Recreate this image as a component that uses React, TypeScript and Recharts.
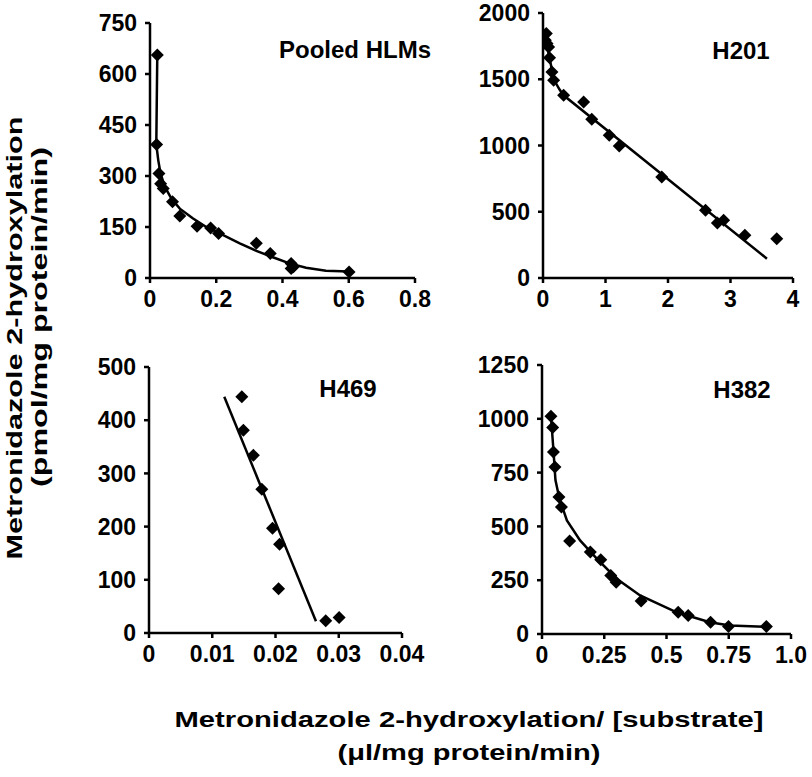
import React from 'react';
import { ScatterChart, Scatter, XAxis, YAxis } from 'recharts';

// Pooled HLMs
const hlmX = [0.022, 0.020, 0.027, 0.032, 0.040, 0.068, 0.090, 0.142, 0.183, 0.207, 0.321, 0.363, 0.426, 0.433, 0.426, 0.601];
const hlmY = [656, 393, 307, 277, 263, 224, 182, 152, 147, 131, 102, 72, 43, 33, 28, 18];
const hlmFitX = [0.022, 0.019, 0.025, 0.032, 0.045, 0.065, 0.090, 0.130, 0.170, 0.221, 0.271, 0.321, 0.371, 0.421, 0.471, 0.531, 0.601];
const hlmFitY = [656, 393, 346, 307, 268, 233, 204, 175, 150, 126, 102, 80, 61, 43, 30, 21, 19];

// H201
const h201X = [0.053, 0.037, 0.064, 0.09, 0.105, 0.143, 0.17, 0.33, 0.65, 0.78, 1.06, 1.22, 1.90, 2.60, 2.79, 2.89, 3.23, 3.74];
const h201Y = [1845, 1794, 1769, 1743, 1663, 1555, 1492, 1379, 1328, 1198, 1077, 996, 762, 511, 415, 435, 322, 297];
const h201FitX = [0.037, 0.074, 0.106, 0.144, 0.196, 0.265, 0.329, 3.583];
const h201FitY = [1807, 1731, 1656, 1568, 1479, 1422, 1379, 146];

// H469
const h469X = [0.01467, 0.01492, 0.0165, 0.01784, 0.01953, 0.02064, 0.02048, 0.02794, 0.03006];
const h469Y = [444, 381, 334, 270, 197, 167, 83, 23, 29];
const h469FitX = [0.0119, 0.0264];
const h469FitY = [444, 22];

// H382
const h382X = [0.036, 0.043, 0.046, 0.052, 0.068, 0.078, 0.111, 0.194, 0.236, 0.276, 0.298, 0.398, 0.547, 0.587, 0.677, 0.749, 0.901];
const h382Y = [1012, 960, 846, 776, 637, 590, 432, 381, 345, 272, 241, 153, 101, 86, 55, 35, 35];
const h382FitX = [0.036, 0.046, 0.054, 0.070, 0.100, 0.153, 0.220, 0.300, 0.394, 0.541, 0.674, 0.754, 0.901];
const h382FitY = [1012, 854, 715, 629, 528, 435, 350, 257, 179, 101, 55, 40, 33];

const hlmTicksX = [0, 0.2, 0.4, 0.6, 0.8];
const hlmTicksY = [0, 150, 300, 450, 600, 750];
const h201TicksX = [0, 1, 2, 3, 4];
const h201TicksY = [0, 500, 1000, 1500, 2000];
const h469TicksX = [0, 0.01, 0.02, 0.03, 0.04];
const h469TicksY = [0, 100, 200, 300, 400, 500];
const h382TicksX = [0, 0.25, 0.5, 0.75, 1];
const h382TicksY = [0, 250, 500, 750, 1000, 1250];

const FONT = '"Liberation Sans", Arial, sans-serif';

const zip = (xs: number[], ys: number[]) => xs.map((x, i) => ({ x, y: ys[i] }));

const Diamond = (props: any) => {
  const { cx, cy } = props;
  const s = 6.5;
  return <polygon points={`${cx},${cy - s} ${cx + s},${cy} ${cx},${cy + s} ${cx - s},${cy}`} fill="#000" />;
};

const NoDot = () => <g />;

interface PanelProps {
  rect: { l: number; r: number; t: number; b: number };
  xs: number[];
  ys: number[];
  fitX: number[];
  fitY: number[];
  ticksX: number[];
  ticksY: number[];
  fmtX?: (v: number) => string;
}

const Panel = ({ rect, xs, ys, fitX, fitY, ticksX, ticksY, fmtX }: PanelProps) => {
  const yw = 75;
  const xh = 35;
  const mt = 15;
  const mr = 30;
  const width = rect.r - rect.l + yw + mr;
  const height = rect.b - rect.t + mt + xh;
  const tick = { fill: '#000', fontSize: 23, fontWeight: 700, fontFamily: FONT };
  return <div style={{ position: 'absolute', left: rect.l - yw, top: rect.t - mt }}>
      <ScatterChart width={width} height={height} margin={{ top: mt, right: mr, bottom: 0, left: 0 }}>
        <XAxis type="number" dataKey="x" domain={[ticksX[0], ticksX[ticksX.length - 1]]} ticks={ticksX}
          height={xh} stroke="#000" strokeWidth={2.5} tickSize={5} tickMargin={8} tick={tick}
          tickFormatter={fmtX} interval={0} allowDataOverflow />
        <YAxis type="number" dataKey="y" domain={[ticksY[0], ticksY[ticksY.length - 1]]} ticks={ticksY}
          width={yw} stroke="#000" strokeWidth={2.5} tickSize={5} tickMargin={8} tick={tick}
          interval={0} allowDataOverflow />
        <Scatter data={zip(fitX, fitY)} line={{ stroke: '#000', strokeWidth: 2.5 }} shape={NoDot} isAnimationActive={false} />
        <Scatter data={zip(xs, ys)} shape={Diamond} isAnimationActive={false} />
      </ScatterChart>
    </div>;
};

const App = () => {
  const txt = { fontFamily: FONT, fontWeight: 700, fill: '#000' };
  return <div style={{ position: 'absolute', left: 0, top: 0, width: 812, height: 777, background: '#fff' }}>
      <Panel rect={{ l: 150, r: 415, t: 23, b: 278 }} xs={hlmX} ys={hlmY} fitX={hlmFitX} fitY={hlmFitY}
        ticksX={hlmTicksX} ticksY={hlmTicksY} />
      <Panel rect={{ l: 543, r: 793, t: 13, b: 278 }} xs={h201X} ys={h201Y} fitX={h201FitX} fitY={h201FitY}
        ticksX={h201TicksX} ticksY={h201TicksY} />
      <Panel rect={{ l: 149, r: 402, t: 367, b: 633 }} xs={h469X} ys={h469Y} fitX={h469FitX} fitY={h469FitY}
        ticksX={h469TicksX} ticksY={h469TicksY} />
      <Panel rect={{ l: 542, r: 791, t: 365, b: 634 }} xs={h382X} ys={h382Y} fitX={h382FitX} fitY={h382FitY}
        ticksX={h382TicksX} ticksY={h382TicksY} fmtX={(v: number) => (v === 1 ? '1.0' : String(v))} />
      <svg width={812} height={777} style={{ position: 'absolute', left: 0, top: 0, pointerEvents: 'none' }}>
        <text x={355} y={58} textAnchor="middle" fontSize={24} {...txt}>Pooled HLMs</text>
        <text x={741} y={59} textAnchor="middle" fontSize={24} {...txt}>H201</text>
        <text x={348} y={397} textAnchor="middle" fontSize={24} {...txt}>H469</text>
        <text x={742} y={398} textAnchor="middle" fontSize={24} {...txt}>H382</text>
        <text transform="translate(22,338) rotate(-90)" textAnchor="middle" fontSize={22} textLength={443}
          lengthAdjust="spacingAndGlyphs" {...txt}>Metronidazole 2-hydroxylation</text>
        <text transform="translate(47,317) rotate(-90)" textAnchor="middle" fontSize={22} textLength={340}
          lengthAdjust="spacingAndGlyphs" {...txt}>(pmol/mg protein/min)</text>
        <text x={469} y={727} textAnchor="middle" fontSize={22} textLength={589}
          lengthAdjust="spacingAndGlyphs" {...txt}>Metronidazole 2-hydroxylation/ [substrate]</text>
        <text x={469} y={760} textAnchor="middle" fontSize={22} textLength={263}
          lengthAdjust="spacingAndGlyphs" {...txt}>(μl/mg protein/min)</text>
      </svg>
    </div>;
};

export default App;
